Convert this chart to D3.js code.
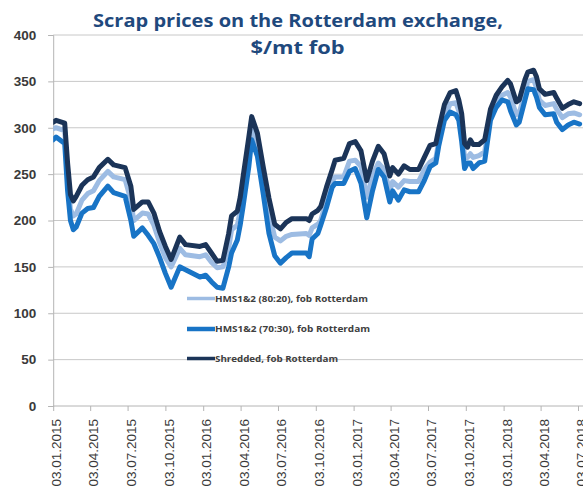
<!DOCTYPE html>
<html>
<head>
<meta charset="utf-8">
<script src="https://cdn.jsdelivr.net/npm/d3@7"></script>
<style>
  html, body { margin: 0; padding: 0; background: #fff; }
  svg { display: block; }
</style>
</head>
<body>
<svg id="chart" width="583" height="496"></svg>
<script>
// Weekly observation dates (dd.mm.yyyy)
const dates = [
  "03.01.2015","10.01.2015","31.01.2015","07.02.2015","14.02.2015","21.02.2015","28.02.2015",
  "14.03.2015","28.03.2015","11.04.2015","25.04.2015","16.05.2015","30.05.2015","27.06.2015",
  "11.07.2015","18.07.2015","08.08.2015","22.08.2015","05.09.2015","19.09.2015","03.10.2015",
  "17.10.2015","07.11.2015","21.11.2015","26.12.2015","09.01.2016","23.01.2016","06.02.2016",
  "20.02.2016","05.03.2016","12.03.2016","26.03.2016","02.04.2016","09.04.2016","23.04.2016",
  "30.04.2016","14.05.2016","28.05.2016","11.06.2016","25.06.2016","09.07.2016","23.07.2016",
  "06.08.2016","10.09.2016","17.09.2016","24.09.2016","08.10.2016","15.10.2016","29.10.2016",
  "12.11.2016","19.11.2016","10.12.2016","24.12.2016","07.01.2017","21.01.2017","04.02.2017",
  "18.02.2017","04.03.2017","18.03.2017","01.04.2017","08.04.2017","22.04.2017","06.05.2017",
  "20.05.2017","10.06.2017","24.06.2017","08.07.2017","22.07.2017","29.07.2017","12.08.2017",
  "26.08.2017","09.09.2017","16.09.2017","23.09.2017","30.09.2017","07.10.2017","14.10.2017",
  "21.10.2017","04.11.2017","18.11.2017","02.12.2017","16.12.2017","30.12.2017","13.01.2018",
  "20.01.2018","03.02.2018","10.02.2018","24.02.2018","03.03.2018","17.03.2018","24.03.2018",
  "31.03.2018","14.04.2018","05.05.2018","12.05.2018","26.05.2018","09.06.2018","23.06.2018",
  "07.07.2018"
];

// HMS1&2 (80:20), fob Rotterdam, $/mt
const hms8020 = [
  299,300,297,250,212,205,207,
  222,229,232,243,253,247,244,
  222,200,208,207,195,176,160,
  150,170,163,161,163,155,149,
  150,170,190,195,210,235,275,
  298,282,245,208,182,178,183,
  185,186,184,192,196,200,222,
  242,247,247,264,265,258,225,
  248,262,255,232,242,236,243,
  242,242,255,263,267,285,312,
  326,327,318,300,268,268,272,
  268,270,274,314,328,335,338,
  333,314,316,338,350,352,343,
  330,324,326,320,311,315,316,
  314
];

// HMS1&2 (70:30), fob Rotterdam, $/mt
const hms7030 = [
  287,290,283,232,200,190,193,
  208,213,214,226,237,230,226,
  200,183,192,184,175,160,143,
  128,150,147,139,141,134,128,
  127,150,165,179,195,215,258,
  287,269,229,186,162,154,160,
  165,165,161,180,186,195,214,
  236,240,240,253,256,240,203,
  232,255,247,220,232,222,233,
  231,231,243,258,262,280,308,
  317,314,308,285,256,262,262,
  256,262,264,308,322,330,328,
  318,303,306,330,342,341,333,
  322,314,315,306,298,303,306,
  304
];

// Shredded, fob Rotterdam, $/mt
const shredded = [
  306,308,305,262,228,221,226,
  238,244,247,257,266,260,257,
  237,212,220,220,208,188,172,
  158,182,174,172,174,165,156,
  157,186,205,210,225,247,290,
  312,294,258,224,196,191,198,
  202,202,200,207,211,215,236,
  255,265,267,283,285,275,243,
  264,280,272,248,257,250,259,
  255,255,268,281,283,298,325,
  338,340,330,315,283,279,287,
  282,282,287,320,335,344,351,
  347,328,330,352,360,362,355,
  342,336,338,332,321,325,328,
  326
];

const tickLabels = [
  "03.01.2015","03.04.2015","03.07.2015","03.10.2015","03.01.2016","03.04.2016",
  "03.07.2016","03.10.2016","03.01.2017","03.04.2017","03.07.2017","03.10.2017",
  "03.01.2018","03.04.2018","03.07.2018"
];
const yTicks = [0, 50, 100, 150, 200, 250, 300, 350, 400];

const seriesNames = [
  "HMS1&2 (80:20), fob Rotterdam",
  "HMS1&2 (70:30), fob Rotterdam",
  "Shredded, fob Rotterdam"
];
const seriesColors = ["#9dbce3", "#1874c6", "#1b3458"];

const parse = d3.timeParse("%d.%m.%Y");
const fmt = d3.timeFormat("%d.%m.%Y");
const dateObjs = dates.map(parse);

const plot = { left: 53.2, right: 583, top: 35, bottom: 406 };

const x = d3.scaleTime()
  .domain([parse("03.01.2015"), parse("03.07.2018")])
  .range([plot.left, 578]);
const y = d3.scaleLinear().domain([0, 400]).range([plot.bottom, plot.top]);

const svg = d3.select("#chart");

// horizontal gridlines
svg.append("g")
  .selectAll("line")
  .data(yTicks.filter(v => v > 0))
  .join("line")
  .attr("x1", plot.left).attr("x2", plot.right)
  .attr("y1", d => y(d)).attr("y2", d => y(d))
  .attr("stroke", "#c8c8c8").attr("stroke-width", 1);

// y axis
const yAxis = svg.append("g")
  .attr("transform", `translate(${plot.left},0)`)
  .call(d3.axisLeft(y).tickValues(yTicks).tickSize(5).tickPadding(12));
yAxis.select(".domain").attr("stroke", "#b4b4b4");
yAxis.selectAll(".tick line").attr("stroke", "#b4b4b4");
yAxis.selectAll(".tick text")
  .attr("font-family", "'Liberation Sans', Arial, sans-serif")
  .attr("font-size", 13.5)
  .attr("font-weight", "bold")
  .attr("fill", "#3a3a3a");

// x axis
const xAxis = svg.append("g")
  .attr("transform", `translate(0,${plot.bottom})`)
  .call(d3.axisBottom(x).tickValues(tickLabels.map(parse)).tickFormat(fmt).tickSize(5));
xAxis.select(".domain").attr("stroke", "#b4b4b4").attr("d", `M${plot.left},0H${plot.right}`);
xAxis.selectAll(".tick line").attr("stroke", "#b4b4b4");
xAxis.selectAll(".tick text")
  .attr("font-family", "'Liberation Sans', Arial, sans-serif")
  .attr("font-size", 13.5)
  .attr("fill", "#3a3a3a")
  .attr("text-anchor", "end")
  .attr("transform", "translate(3,13) rotate(-90)")
  .attr("x", 0).attr("y", 0).attr("dy", "0.35em");

// clip to the plot area
svg.append("clipPath").attr("id", "plotclip")
  .append("rect")
  .attr("x", plot.left).attr("y", 0)
  .attr("width", plot.right - plot.left).attr("height", plot.bottom);

const line = d3.line()
  .x((d, i) => x(dateObjs[i]))
  .y(d => y(d));

const allSeries = [hms8020, hms7030, shredded];
svg.append("g").attr("clip-path", "url(#plotclip)")
  .selectAll("path")
  .data(allSeries)
  .join("path")
  .attr("d", d => line(d))
  .attr("fill", "none")
  .attr("stroke", (d, i) => seriesColors[i])
  .attr("stroke-width", 5)
  .attr("stroke-linejoin", "round")
  .attr("stroke-linecap", "round");

// legend
const legendRows = [
  { y: 298.5, w: 3.5, len: 153 },
  { y: 329, w: 4.5, len: 155 },
  { y: 358.5, w: 3.5, len: 123 }
];
const legend = svg.append("g");
legendRows.forEach((r, i) => {
  legend.append("line")
    .attr("x1", 187).attr("x2", 215)
    .attr("y1", r.y).attr("y2", r.y)
    .attr("stroke", seriesColors[i])
    .attr("stroke-width", r.w);
  legend.append("text")
    .attr("x", 215).attr("y", r.y).attr("dy", "0.35em")
    .attr("font-family", "'Open Sans', 'Liberation Sans', sans-serif")
    .attr("font-size", 9)
    .attr("font-weight", "bold")
    .attr("fill", "#404040")
    .attr("textLength", r.len)
    .attr("lengthAdjust", "spacingAndGlyphs")
    .text(seriesNames[i]);
});

// title
const title = svg.append("g")
  .attr("font-family", "'Open Sans', 'Liberation Sans', sans-serif")
  .attr("font-weight", "bold")
  .attr("fill", "#1f497d")
  .attr("text-anchor", "middle");
title.append("text")
  .attr("x", 298).attr("y", 27)
  .attr("font-size", 17.5)
  .attr("textLength", 410)
  .attr("lengthAdjust", "spacingAndGlyphs")
  .text("Scrap prices on the Rotterdam exchange,");
title.append("text")
  .attr("x", 297.5).attr("y", 54)
  .attr("font-size", 17.5)
  .attr("textLength", 94)
  .attr("lengthAdjust", "spacingAndGlyphs")
  .text("$/mt fob");
</script>
</body>
</html>
